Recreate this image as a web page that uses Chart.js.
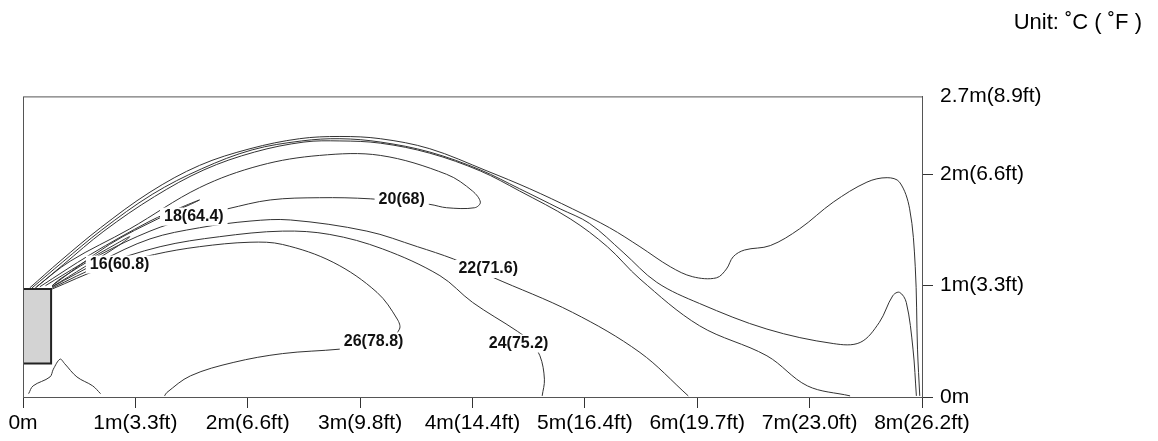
<!DOCTYPE html>
<html>
<head>
  <meta charset="utf-8"/>
  <script src="https://cdn.jsdelivr.net/npm/chart.js@4/dist/chart.umd.min.js"></script>
  <style>
    html, body { margin: 0; padding: 0; background: #ffffff; }
    #wrap { width: 1158px; height: 441px; }
  </style>
</head>
<body>
  <div id="wrap"><canvas id="chart"></canvas></div>
  <script>
    // axis ticks, in metres
    var xTickLabels = ['0m', '1m(3.3ft)', '2m(6.6ft)', '3m(9.8ft)', '4m(14.4ft)', '5m(16.4ft)',
                       '6m(19.7ft)', '7m(23.0ft)', '8m(26.2ft)'];
    var yTickValues = [0, 1, 2, 2.7];
    var yTickLabels = ['0m', '1m(3.3ft)', '2m(6.6ft)', '2.7m(8.9ft)'];

    // the unit itself, [x, y] in metres
    var unitBox = [[0, 0.30], [0.25, 0.30], [0.25, 0.97], [0, 0.97], [0, 0.30]];

    // isotherms, [x, y] in metres
    var outerLine = [[0.06,0.98],[0.33,1.22],[0.69,1.52],[1.13,1.84],[1.57,2.08],[2.02,2.23],[2.46,2.32],
      [2.82,2.34],[3.18,2.32],[3.62,2.23],[4.13,2.03],[4.51,1.87],[4.89,1.69],[5.22,1.52],[5.49,1.35],
      [5.76,1.17],[5.96,1.08],[6.17,1.07],[6.26,1.15],[6.32,1.26],[6.42,1.32],[6.65,1.36],[6.91,1.51],
      [7.21,1.75],[7.51,1.93],[7.69,1.97],[7.80,1.93],[7.89,1.69],[7.94,1.17],[7.96,0.43],[7.98,0.01]];
    var secondLine = [[0.08,0.98],[0.35,1.21],[0.70,1.50],[1.15,1.82],[1.59,2.05],[2.04,2.22],[2.48,2.30],
      [2.82,2.32],[3.18,2.29],[3.62,2.20],[4.07,2.04],[4.42,1.87],[4.78,1.69],[5.04,1.56],[5.34,1.30],
      [5.64,1.03],[6.02,0.84],[6.62,0.61],[7.21,0.48],[7.45,0.49],[7.62,0.67],[7.74,0.91],[7.80,0.94],
      [7.86,0.85],[7.92,0.43],[7.95,0.01]];
    var thirdLine = [[0.10,0.97],[0.36,1.19],[0.72,1.49],[1.17,1.80],[1.61,2.04],[2.06,2.20],[2.50,2.29],
      [2.82,2.30],[3.18,2.28],[3.62,2.19],[4.07,2.03],[4.42,1.85],[4.87,1.60],[5.20,1.35],[5.49,1.06],
      [6.02,0.64],[6.62,0.37],[6.98,0.10],[7.36,0.01]];
    var line20 = [[0.12,0.99],[0.42,1.22],[0.95,1.51],[1.57,1.88],[2.11,2.08],[2.64,2.17],[3.18,2.17],
      [3.77,2.00],[4.00,1.85],[4.07,1.75],[4.02,1.70],[3.77,1.70],[3.62,1.73],[3.09,1.78],[2.64,1.79],
      [2.20,1.77],[1.82,1.69],[1.49,1.61],[1.13,1.49],[0.69,1.28],[0.33,1.06],[0.26,1.00]];
    var line18 = [[0.15,0.99],[0.60,1.28],[1.13,1.58],[1.40,1.70],[1.57,1.77],[1.49,1.73],[1.22,1.61],
      [0.77,1.37],[0.26,1.00]];
    var line16 = [[0.20,1.00],[0.51,1.19],[0.82,1.37],[0.95,1.44],[0.85,1.36],[0.55,1.17],[0.26,0.99]];
    var line22 = [[0.26,0.99],[0.69,1.22],[1.13,1.42],[1.57,1.52],[2.02,1.58],[2.38,1.59],[3.06,1.49],
      [3.51,1.35],[3.83,1.24],[3.98,1.17],[4.17,1.08],[4.89,0.76],[5.49,0.40],[5.92,0.01]];
    var line24 = [[0.26,0.98],[0.69,1.18],[1.22,1.35],[1.75,1.44],[2.31,1.49],[2.73,1.46],[3.20,1.33],
      [3.71,1.09],[4.00,0.85],[4.40,0.59],[4.51,0.50],[4.60,0.37],[4.64,0.16],[4.62,0.01]];
    var line26 = [[0.26,0.97],[0.69,1.15],[1.17,1.28],[1.57,1.35],[2.02,1.39],[2.31,1.37],[2.76,1.21],
      [3.15,0.94],[3.33,0.70],[3.35,0.61],[3.22,0.48],[2.82,0.43],[2.31,0.39],[1.87,0.31],[1.49,0.19],
      [1.28,0.04],[1.26,0.01]];
    var floorBump = [[0.05,0.03],[0.09,0.10],[0.24,0.18],[0.27,0.25],[0.33,0.34],[0.37,0.30],[0.48,0.18],
      [0.62,0.10],[0.69,0.03]];

    // contour labels
    var labelTexts = ['20(68)', '18(64.4)', '16(60.8)', '22(71.6)', '24(75.2)', '26(78.8)'];
    var labelX = [3.37, 1.52, 0.86, 4.14, 4.41, 3.12];
    var labelY = [1.77, 1.62, 1.19, 1.15, 0.48, 0.50];

    var FONT = '"Liberation Sans", Arial, sans-serif';

    function pts(arr) {
      return arr.map(function(p) { return { x: p[0], y: p[1] }; });
    }

    var contours = [outerLine, secondLine, thirdLine, line20, line18, line16, line22, line24, line26, floorBump];
    var datasets = contours.map(function(c) {
      return {
        data: pts(c), showLine: true, borderColor: '#333333', borderWidth: 1,
        pointRadius: 0, tension: 0.35, fill: false
      };
    });
    datasets.push({
      data: pts(unitBox), showLine: true, borderColor: '#222222', borderWidth: 2,
      backgroundColor: '#d3d3d3', pointRadius: 0, tension: 0, fill: 'shape'
    });

    var frame = {
      id: 'frame',
      afterDatasetsDraw: function(chart) {
        var ctx = chart.ctx, a = chart.chartArea;
        var xs = chart.scales.x, ys = chart.scales.y;
        ctx.save();
        ctx.strokeStyle = '#555555';
        ctx.lineWidth = 1;
        ctx.strokeRect(a.left + 0.5, a.top + 0.5, a.right - a.left, a.bottom - a.top);
        ctx.font = 'bold 16px ' + FONT;
        ctx.textAlign = 'center';
        ctx.textBaseline = 'middle';
        for (var i = 0; i < labelTexts.length; i++) {
          var px = xs.getPixelForValue(labelX[i]);
          var py = ys.getPixelForValue(labelY[i]);
          var w = ctx.measureText(labelTexts[i]).width;
          ctx.fillStyle = '#ffffff';
          ctx.fillRect(px - w / 2 - 4, py - 9, w + 8, 18);
          ctx.fillStyle = '#111111';
          ctx.fillText(labelTexts[i], px, py);
        }
        ctx.restore();
      }
    };

    new Chart(document.getElementById('chart'), {
      type: 'scatter',
      data: { datasets: datasets },
      plugins: [frame],
      options: {
        responsive: true,
        maintainAspectRatio: false,
        animation: false,
        layout: { padding: { left: 23, right: 16, top: 0, bottom: 0 } },
        plugins: {
          legend: { display: false },
          tooltip: { enabled: false },
          title: {
            display: true,
            text: 'Unit: \u02DAC ( \u02DAF )',
            align: 'end',
            color: '#000000',
            font: { family: FONT, size: 22, weight: 'normal' },
            padding: { top: 10, bottom: 60 }
          }
        },
        scales: {
          x: {
            type: 'linear', min: 0, max: 8,
            afterFit: function(s) { s.height = 44; },
            grid: { drawOnChartArea: false, drawTicks: true, tickLength: 11, color: '#333333' },
            border: { display: true, color: '#555555' },
            ticks: {
              stepSize: 1, padding: 3, color: '#000000', maxRotation: 0, autoSkip: false,
              font: { family: FONT, size: 21 },
              callback: function(v, i) { return xTickLabels[i]; }
            }
          },
          y: {
            type: 'linear', position: 'right', min: 0, max: 2.7,
            afterFit: function(s) { s.width = 220; },
            afterBuildTicks: function(s) {
              s.ticks = yTickValues.map(function(v) { return { value: v }; });
            },
            grid: {
              drawOnChartArea: false, drawTicks: true, tickLength: 11,
              tickColor: function(c) { return c.tick && c.tick.value === 2.7 ? 'rgba(0,0,0,0)' : '#333333'; }
            },
            border: { display: true, color: '#555555' },
            ticks: {
              padding: 7, color: '#000000',
              font: { family: FONT, size: 21 },
              callback: function(v, i) { return yTickLabels[i]; }
            }
          }
        }
      }
    });
  </script>
</body>
</html>
